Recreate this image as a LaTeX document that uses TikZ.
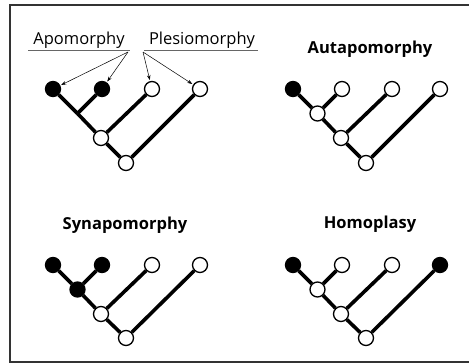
\documentclass[tikz,border=0pt]{standalone}
\usepackage{fontspec}
\setmainfont{Open Sans}
\usetikzlibrary{arrows.meta}
\tikzset{
  open/.style={circle,draw,line width=1.3pt,fill=white,minimum size=15pt,inner sep=0pt},
  shut/.style={open,fill=black},
  branch/.style={line width=3.6pt},
  pointer/.style={line width=0.5pt,-{Stealth[length=5pt,width=3.5pt]},shorten >=1pt},
  title/.style={font=\fontsize{16.5}{19}\selectfont\bfseries,anchor=base},
  term/.style={font=\fontsize{16.5}{19}\selectfont,anchor=base}
}
\begin{document}
\begin{tikzpicture}[x=1pt,y=-1pt]
  \useasboundingbox (0,0) rectangle (469,364);
  \draw[line width=2pt,black!80] (469,5) -- (10,5) -- (10,362) -- (469,362);
  \draw
    (53,89) node[shut] (a1){}
    (102,89) node[shut] (a2){}
    (152,89) node[open] (a3){}
    (200,89) node[open] (a4){}
    (101,138) node[open] (ab){}
    (126,163) node[open] (ac){};
  \coordinate (aa) at (77.5,113.5);
  \begin{scope}[branch]
    \draw (a1) to (aa);
    \draw (aa) to (ab);
    \draw (a2) to (aa);
    \draw (ab) to (ac);
    \draw (a3) to (ab);
    \draw (a4) to (ac);
  \end{scope}
  \node[term] (apo) at (79,44) {Apomorphy};
  \node[term] (ples) at (202,44) {Plesiomorphy};
  \draw[line width=1pt,black!60] (28,50) -- (130,50) (144,50) -- (258,50);
  \coordinate (apoend) at (128,52);
  \coordinate (plesend) at (143,52);
  \begin{scope}[pointer]
    \draw (apoend) to (a1);
    \draw (apoend) to (a2);
    \draw (plesend) to (a3);
    \draw (plesend) to (a4);
  \end{scope}
  \node[title] (auta) at (370,53) {Autapomorphy};
  \draw
    (293,89) node[shut] (b1){}
    (342,89) node[open] (b2){}
    (392,89) node[open] (b3){}
    (440,89) node[open] (b4){}
    (317.5,113.5) node[open] (ba){}
    (341,138) node[open] (bb){}
    (366,163) node[open] (bc){};
  \begin{scope}[branch]
    \draw (b1) to (ba);
    \draw (b2) to (ba);
    \draw (ba) to (bb);
    \draw (b3) to (bb);
    \draw (bb) to (bc);
    \draw (b4) to (bc);
  \end{scope}
  \node[title] (syna) at (125,229) {Synapomorphy};
  \draw
    (53,265) node[shut] (c1){}
    (102,265) node[shut] (c2){}
    (152,265) node[open] (c3){}
    (200,265) node[open] (c4){}
    (77.5,289.5) node[shut] (ca){}
    (101,314) node[open] (cb){}
    (126,338) node[open] (cc){};
  \begin{scope}[branch]
    \draw (c1) to (ca);
    \draw (c2) to (ca);
    \draw (ca) to (cb);
    \draw (c3) to (cb);
    \draw (cb) to (cc);
    \draw (c4) to (cc);
  \end{scope}
  \node[title] (homo) at (370,228) {Homoplasy};
  \draw
    (293,265) node[shut] (d1){}
    (342,265) node[open] (d2){}
    (392,265) node[open] (d3){}
    (440,265) node[shut] (d4){}
    (317.5,289.5) node[open] (da){}
    (341,314) node[open] (db){}
    (366,338) node[open] (dc){};
  \begin{scope}[branch]
    \draw (d1) to (da);
    \draw (d2) to (da);
    \draw (da) to (db);
    \draw (d3) to (db);
    \draw (db) to (dc);
    \draw (d4) to (dc);
  \end{scope}
\end{tikzpicture}
\end{document}
